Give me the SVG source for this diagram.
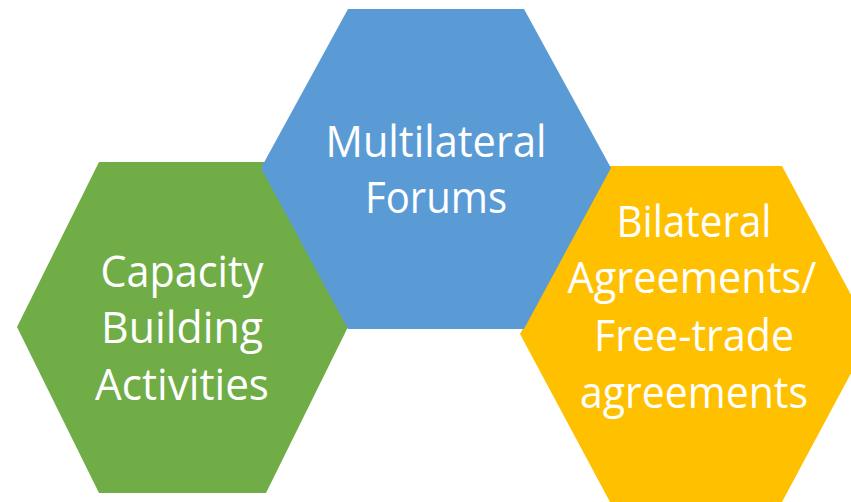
<svg xmlns="http://www.w3.org/2000/svg" width="851" height="502" viewBox="0 0 851 502">
<style>
.lbl{font-family:"Open Sans","Noto Sans",sans-serif;font-size:44px;fill:#ffffff;text-anchor:middle}
</style>
<rect width="851" height="502" fill="#ffffff"/>
<g id="node-capacity">
<polygon points="99,162 266,162 348,327 266,493 99,493 17,327" fill="#70AD47"/>
<text class="lbl" x="182" y="287" textLength="163" lengthAdjust="spacingAndGlyphs">Capacity</text>
<text class="lbl" x="182" y="343" textLength="162" lengthAdjust="spacingAndGlyphs">Building</text>
<text class="lbl" x="182" y="400" textLength="174" lengthAdjust="spacingAndGlyphs">Activities</text>
</g>
<g id="node-bilateral">
<polygon points="610,166 782,166 872,334 782,502 610,502 520,334" fill="#FFC000"/>
<text class="lbl" x="694" y="237" textLength="155" lengthAdjust="spacingAndGlyphs">Bilateral</text>
<text class="lbl" x="692" y="293" textLength="249" lengthAdjust="spacingAndGlyphs">Agreements/</text>
<text class="lbl" x="694" y="351" textLength="200" lengthAdjust="spacingAndGlyphs">Free-trade</text>
<text class="lbl" x="694" y="408" textLength="228" lengthAdjust="spacingAndGlyphs">agreements</text>
</g>
<g id="node-multilateral">
<polygon points="348,9 524,9 611,168 524,329 348,329 261,168" fill="#5B9BD5"/>
<text class="lbl" x="436" y="157" textLength="221" lengthAdjust="spacingAndGlyphs">Multilateral</text>
<text class="lbl" x="436" y="213" textLength="142" lengthAdjust="spacingAndGlyphs">Forums</text>
</g>
<g id="connectors"></g>
</svg>
